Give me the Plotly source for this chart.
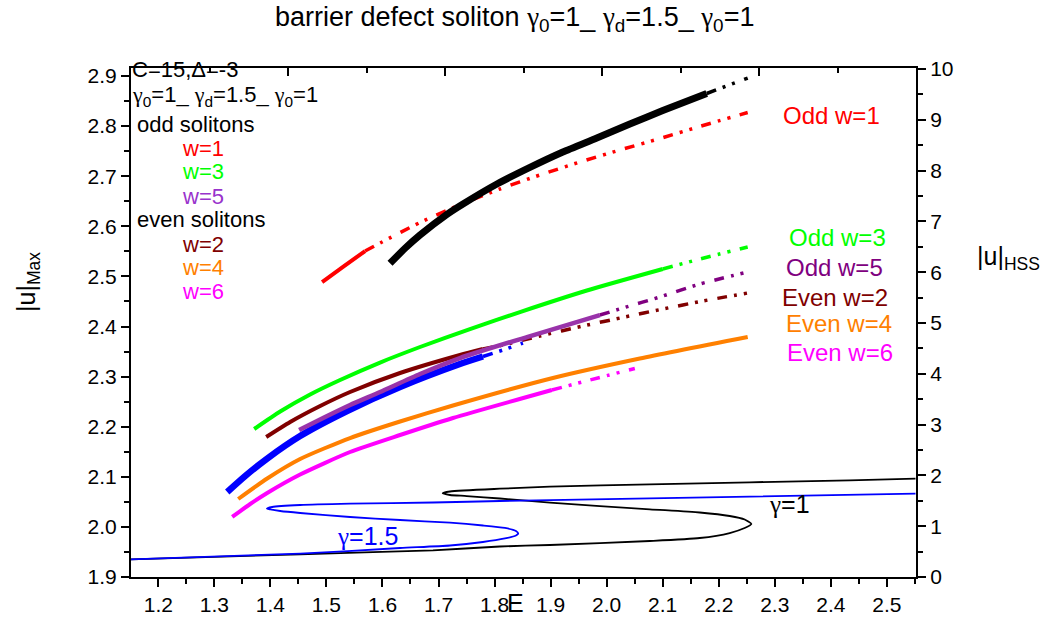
import plotly.graph_objects as go

# ---------------- data (E, |u|) ----------------
# thick soliton branches on left axis |u|_Max
black_solid_E = [1.6135, 1.6403, 1.6670, 1.7151, 1.7437, 1.8043, 1.8631, 1.9219, 1.9825, 2.0414, 2.1002, 2.1786]
black_solid_u = [2.5261, 2.5561, 2.5826, 2.6238, 2.6445, 2.6844, 2.7176, 2.7483, 2.7762, 2.8042, 2.8311, 2.8651]
black_dash_E = [2.1786, 2.2517]
black_dash_u = [2.8651, 2.8960]

red_solid_E = [1.4923, 1.5302, 1.5690]
red_solid_u = [2.4888, 2.5194, 2.5507]
red_dash_E = [1.5690, 1.5993, 1.6670, 1.7437, 1.8096, 1.8809, 1.9522, 2.0235, 2.0948, 2.1658, 2.2517]
red_dash_u = [2.5507, 2.5687, 2.6076, 2.6455, 2.6745, 2.7024, 2.7283, 2.7523, 2.7752, 2.7992, 2.8271]

green_solid_E = [1.3711, 1.4175, 1.4709, 1.5244, 1.5957, 1.6670, 1.7561, 1.8453, 1.9647, 2.1002]
green_solid_u = [2.1954, 2.2303, 2.2643, 2.2932, 2.3281, 2.3591, 2.3950, 2.4289, 2.4719, 2.5148]
green_dash_E = [2.1002, 2.1661, 2.2517]
green_dash_u = [2.5148, 2.5347, 2.5587]

maroon_solid_E = [1.3925, 1.4353, 1.4888, 1.5422, 1.6314, 1.7383, 1.7793]
maroon_solid_u = [2.1794, 2.2094, 2.2413, 2.2693, 2.3072, 2.3431, 2.3551]
maroon_dash_E = [1.7793, 1.8150, 1.8809, 1.9576, 2.0324, 2.1002, 2.1715, 2.2517]
maroon_dash_u = [2.3551, 2.3631, 2.3810, 2.4010, 2.4190, 2.4349, 2.4509, 2.4669]

purple_solid_E = [1.4513, 1.4977, 1.5422, 1.5957, 1.6670, 1.7383, 1.8578, 1.9879]
purple_solid_u = [2.1934, 2.2194, 2.2433, 2.2693, 2.3052, 2.3371, 2.3790, 2.4229]
purple_dash_E = [1.9879, 2.0289, 2.0948, 2.1661, 2.2517]
purple_dash_u = [2.4229, 2.4369, 2.4589, 2.4848, 2.5088]

blue_solid_E = [1.3230, 1.3551, 1.3943, 1.4531, 1.5369, 1.6314, 1.7383, 1.7793]
blue_solid_u = [2.0697, 2.1016, 2.1365, 2.1814, 2.2313, 2.2792, 2.3251, 2.3401]
blue_dash_E = [1.7793, 1.8150, 1.8507]
blue_dash_u = [2.3401, 2.3531, 2.3671]

orange_E = [1.3426, 1.3943, 1.4531, 1.5422, 1.6314, 1.7258, 1.9041, 2.0592, 2.2517]
orange_u = [2.0557, 2.0966, 2.1355, 2.1774, 2.2104, 2.2423, 2.2972, 2.3361, 2.3790]

magenta_solid_E = [1.3319, 1.3640, 1.3943, 1.4531, 1.5422, 1.6314, 1.7258, 1.9023]
magenta_solid_u = [2.0198, 2.0457, 2.0677, 2.1046, 2.1495, 2.1834, 2.2174, 2.2733]
magenta_dash_E = [1.9023, 1.9701, 2.0503]
magenta_dash_u = [2.2733, 2.2932, 2.3162]

# thin homogeneous steady state curves on right axis |u|_HSS
hss1_E = [1.1513, 1.4531, 1.6902, 1.8096, 1.8988, 2.0770, 2.1661, 2.2196, 2.2463, 2.2583,
          2.2463, 2.2196, 2.1661, 2.0770, 1.8988, 1.8096, 1.7503, 1.7205, 1.7075,
          1.7205, 1.8096, 1.8988, 2.0770, 2.2552, 2.4335, 2.5511]
hss1_u = [0.348, 0.447, 0.526, 0.600, 0.630, 0.709, 0.768, 0.866, 0.965, 1.043,
          1.132, 1.201, 1.270, 1.333, 1.463, 1.545, 1.594, 1.614, 1.648,
          1.683, 1.738, 1.778, 1.825, 1.864, 1.904, 1.935]

hss15_E = [1.1513, 1.4531, 1.6314, 1.7205, 1.7793, 1.8185, 1.8382, 1.8422,
           1.8382, 1.8185, 1.7793, 1.7205, 1.6314, 1.5422, 1.4531, 1.4175, 1.3997, 1.3938,
           1.4032, 1.4531, 1.5422, 1.6902, 1.8096, 2.0770, 2.5511]
hss15_u = [0.348, 0.459, 0.571, 0.620, 0.689, 0.758, 0.817, 0.852,
           0.906, 0.965, 1.014, 1.069, 1.122, 1.181, 1.260, 1.299, 1.329, 1.344,
           1.378, 1.417, 1.443, 1.467, 1.496, 1.549, 1.640]

x_ticks = [1.2, 1.3, 1.4, 1.5, 1.6, 1.7, 1.8, 1.9, 2.0, 2.1, 2.2, 2.3, 2.4, 2.5]
y_ticks = [1.9, 2.0, 2.1, 2.2, 2.3, 2.4, 2.5, 2.6, 2.7, 2.8, 2.9]
y2_ticks = [0, 1, 2, 3, 4, 5, 6, 7, 8, 9, 10]

FONT = "Liberation Sans, Arial, sans-serif"
G = '<span style="font-family:Liberation Serif">γ</span>'
DDOT = "10px,7px,3px,7px,3px,10px"

fig = go.Figure()

def line(x, y, color, width, dash="solid", yaxis="y", shape="spline"):
    fig.add_trace(go.Scatter(x=x, y=y, mode="lines", yaxis=yaxis, showlegend=False,
                             hoverinfo="skip",
                             line=dict(color=color, width=width, dash=dash,
                                       shape=shape, smoothing=0.6)))

# thin HSS curves
line(hss1_E, hss1_u, "black", 1.8, yaxis="y2")
line(hss15_E, hss15_u, "#0000ff", 1.8, yaxis="y2")

# soliton branches
line(red_solid_E, red_solid_u, "#ff0000", 4)
line(red_dash_E, red_dash_u, "#ff0000", 3.5, DDOT)
line(black_solid_E, black_solid_u, "black", 7)
line(black_dash_E, black_dash_u, "black", 3.5, DDOT)
line(green_solid_E, green_solid_u, "#00ff00", 4)
line(green_dash_E, green_dash_u, "#00ff00", 3.5, DDOT)
line(maroon_solid_E, maroon_solid_u, "#800000", 4)
line(maroon_dash_E, maroon_dash_u, "#800000", 3.5, DDOT)
line(blue_solid_E, blue_solid_u, "#0000ff", 6.5)
line(blue_dash_E, blue_dash_u, "#0000ff", 3.5, DDOT)
line(purple_solid_E, purple_solid_u, "#9933aa", 4.5)
line(purple_dash_E, purple_dash_u, "#800080", 3.5, DDOT)
line(orange_E, orange_u, "#ff8000", 4)
line(magenta_solid_E, magenta_solid_u, "#ff00ff", 4)
line(magenta_dash_E, magenta_dash_u, "#ff00ff", 3.5, DDOT)

# helper for top mirror axis
fig.add_trace(go.Scatter(x=[], y=[], xaxis="x2", showlegend=False, hoverinfo="skip"))

tickfont = dict(family=FONT, size=21, color="black")
axis_common = dict(showline=True, linecolor="black", linewidth=2, showgrid=False,
                   zeroline=False, tickcolor="black", tickwidth=1.5, tickfont=tickfont,
                   automargin=False)

fig.update_layout(
    width=1051, height=619,
    margin=dict(l=131, r=135, t=68, b=42, autoexpand=False),
    plot_bgcolor="white", paper_bgcolor="white",
    font=dict(family=FONT, color="black"),
    xaxis=dict(range=[1.1513, 2.552], tickvals=x_ticks, ticktext=[f"{v:.1f}" for v in x_ticks],
               ticks="outside", ticklen=8,
               minor=dict(ticks="outside", ticklen=5, dtick=0.05, tick0=1.15, tickcolor="black", tickwidth=1.5),
               **axis_common),
    xaxis2=dict(range=[0, 5], overlaying="x", side="top", anchor="y", tickvals=[0, 1, 2, 3, 4, 5],
                showticklabels=False, ticks="inside", ticklen=8,
                minor=dict(ticks="inside", ticklen=5, dtick=0.5, tick0=0, tickcolor="black", tickwidth=1.5),
                **axis_common),
    yaxis=dict(range=[1.9, 2.916], tickvals=y_ticks, ticktext=[f"{v:.1f}" for v in y_ticks],
               ticks="outside", ticklen=8,
               minor=dict(ticks="outside", ticklen=5, dtick=0.05, tick0=1.9, tickcolor="black", tickwidth=1.5),
               **axis_common),
    yaxis2=dict(range=[0, 10.02], overlaying="y", side="right", anchor="x", tickvals=y2_ticks,
                ticks="outside", ticklen=8,
                minor=dict(ticks="outside", ticklen=5, dtick=0.5, tick0=0, tickcolor="black", tickwidth=1.5),
                **axis_common),
)

def px2paper(px, py):
    return (px - 131) / 785, (577 - py) / 509

def ann(text, px, py, color="black", size=22, xanchor="center", angle=0):
    x, y = px2paper(px, py)
    fig.add_annotation(text=text, x=x, y=y, xref="paper", yref="paper", showarrow=False,
                       xanchor=xanchor, yanchor="middle", textangle=angle,
                       font=dict(family=FONT, size=size, color=color))

# title
ann(f"barrier defect soliton {G}<sub>0</sub>=1_ {G}<sub>d</sub>=1.5_ {G}<sub>0</sub>=1", 514, 19, size=27)

# left legend-like text
ann("C=15,Δ=-3", 130, 70, xanchor="left")
ann(f"{G}<sub>0</sub>=1_ {G}<sub>d</sub>=1.5_ {G}<sub>0</sub>=1", 130, 96, xanchor="left")
ann("odd solitons", 135, 124, xanchor="left")
ann("w=1", 180, 148, color="#ff0000", xanchor="left")
ann("w=3", 180, 172, color="#00ff00", xanchor="left")
ann("w=5", 180, 196, color="#9933cc", xanchor="left")
ann("even solitons", 135, 219, xanchor="left")
ann("w=2", 180, 244, color="#800000", xanchor="left")
ann("w=4", 180, 267, color="#ff8000", xanchor="left")
ann("w=6", 180, 291, color="#ff00ff", xanchor="left")

# right labels
ann("Odd w=1", 831, 116, color="#ff0000", size=24)
ann("Odd w=3", 837, 237, color="#00ff00", size=24)
ann("Odd w=5", 834, 267, color="#800080", size=24)
ann("Even w=2", 835, 297, color="#800000", size=24)
ann("Even w=4", 839, 323, color="#ff8000", size=24)
ann("Even w=6", 840, 352, color="#ff00ff", size=24)

# curve labels
ann(f"{G}=1.5", 367, 536, color="#0000ff", size=25)
ann(f"{G}=1", 789, 504, color="black", size=25)

# axis titles
ann("|u|<sub>Max</sub>", 28, 282, size=25, angle=-90)
ann("|u|<sub>HSS</sub>", 1008, 258, size=25)
ann("E", 515, 603, size=25)

fig.write_html("out.html", config={"displayModeBar": False})

# remove default page margin so the figure sits at the window origin
with open("out.html", "r", encoding="utf-8") as f:
    html = f.read()
html = html.replace("<head>", "<head><style>html,body{margin:0;padding:0;overflow:hidden;}</style>", 1)
with open("out.html", "w", encoding="utf-8") as f:
    f.write(html)
